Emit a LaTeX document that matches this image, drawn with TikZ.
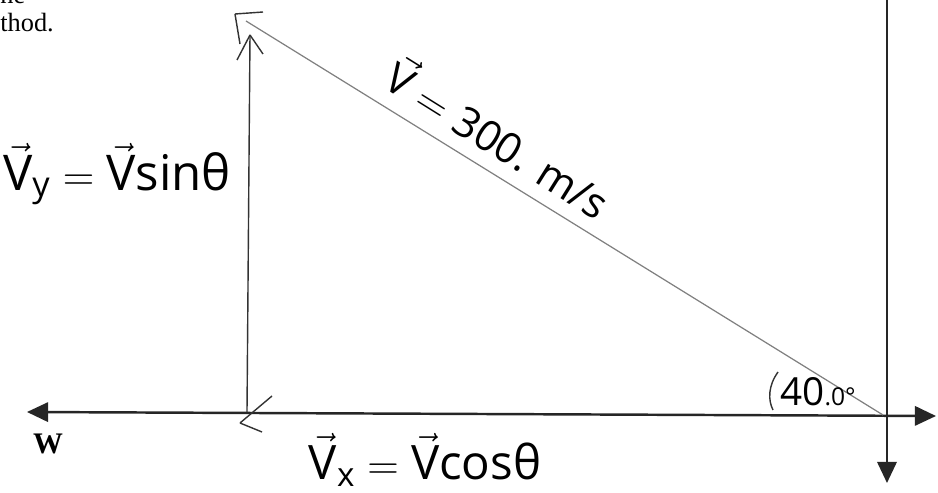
\documentclass[tikz,border=0pt]{standalone}
\usepackage{amsmath}
\usepackage{fontspec}
\setmainfont{Liberation Serif}
\newfontfamily\hand{Open Sans}
\usepackage{tikz}
\usetikzlibrary{arrows.meta}
\newcommand{\hvec}[1]{\vec{\text{#1}}}
\tikzset{
  tri/.tip={Triangle[length=12pt,width=11pt]},
  axis/.style={line width=1.4pt, draw=black!85},
  pen/.style={line width=0.8pt, draw=black!80},
  hand/.style={font=\hand\fontsize{28}{28}\selectfont, inner sep=0pt},
  print/.style={font=\fontsize{15}{15}\selectfont, inner sep=0pt},
}

\begin{document}
\begin{tikzpicture}[x=0.02cm, y=-0.02cm]
    \useasboundingbox (0,0) rectangle (938,493);
    \clip (0,0) rectangle (938,493);

    % 关键点
    \coordinate (O) at (883,415);
    \coordinate (west) at (27,412); \coordinate (east) at (936,416);
    \coordinate (north) at (887,-5); \coordinate (south) at (887,483);
    \coordinate (vend) at (246,21); \coordinate (vtip) at (235,14);
    \coordinate (ybase) at (247,412); \coordinate (ytip) at (250,35);
    \coordinate (xtip) at (240,423);

    % 坐标轴
    \draw[axis, tri-tri] (west) -- (east);
    \draw[axis, -tri] (north) -- (south);

    % 速度及分量（手绘箭头）
    \draw[line width=0.7pt, draw=black!50] (O) -- (vend);
    \draw[pen] (vtip) -- ++(28,-2) (vtip) -- ++(5,30);
    \draw[pen] (ybase) -- (ytip);
    \draw[pen] (ytip) -- ++(-13,25) (ytip) -- ++(13,19);
    \draw[pen] (xtip) -- ++(32,-27) (xtip) -- ++(22,9);

    % 角度
    \draw[pen] (778,372) .. controls (768,386) and (768,400) .. (773,410);

    % 标注
    \node[hand] (vy) at (117,174) {$\hvec{V}_{\text{y}} = \hvec{V}\text{sinθ}$};
    \node[hand, font=\hand\fontsize{27}{27}\selectfont] (vx) at (425,460) {$\hvec{V}_{\text{x}} = \hvec{V}\text{cosθ}$};
    \node[hand, font=\hand\fontsize{24}{24}\selectfont, rotate=-32] (vlab) at (500,136) {$\hvec{V} = \text{300. m/s}$};
    \node[hand, font=\hand\fontsize{22}{22}\selectfont] (ang) at (818,392) {40{\fontsize{14}{14}\selectfont.0°}};

    % 印刷文字
    \node[print, font=\fontsize{17}{17}\selectfont\bfseries] (W) at (48,444) {W};
    \node[print, anchor=base west] (line1) at (0,4) {ne};
    \node[print, anchor=base west] (line2) at (0,32) {thod.};
\end{tikzpicture}
\end{document}
